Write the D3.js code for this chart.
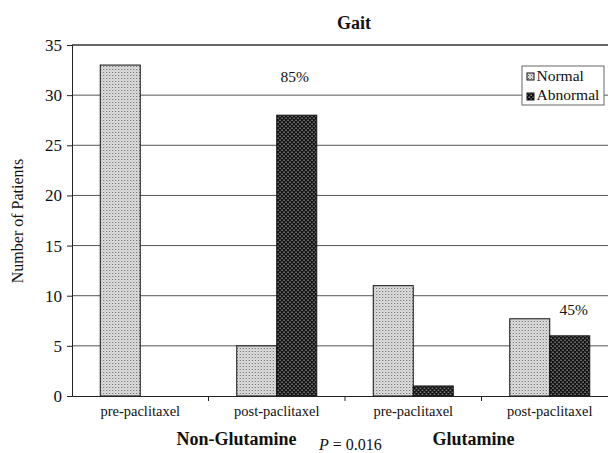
<!DOCTYPE html>
<html>
<head>
<meta charset="utf-8">
<script src="https://cdn.jsdelivr.net/npm/d3@7"></script>
<style>
body { margin: 0; background: #fff; }
svg text { font-family: "Liberation Serif", Tinos, "DejaVu Serif", "Times New Roman", serif !important; fill: #111; }
</style>
</head>
<body>
<svg id="chart" width="608" height="453"></svg>
<script>
// chart data
var categories = ["pre-paclitaxel|ng", "post-paclitaxel|ng", "pre-paclitaxel|g", "post-paclitaxel|g"];
var catLabels = ["pre-paclitaxel", "post-paclitaxel", "pre-paclitaxel", "post-paclitaxel"];
var seriesNames = ["Normal", "Abnormal"];
var normalVals = [33, 5, 11, 7.7];
var abnormalVals = [0, 28, 1, 6];
var yTicks = [0, 5, 10, 15, 20, 25, 30, 35];
var groups = ["Non-Glutamine", "Glutamine"];
var noteCats = [1, 3];
var noteTexts = ["85%", "45%"];

const svg = d3.select("#chart"),
	margin = {top: 45, right: -10, bottom: 57, left: 72},
	width = +svg.attr("width") - margin.left - margin.right,
	height = +svg.attr("height") - margin.top - margin.bottom;

// fill patterns like the printed figure
var defs = svg.append("defs");
var pn = defs.append("pattern").attr("id", "pNormal").attr("width", 3).attr("height", 3)
	.attr("patternUnits", "userSpaceOnUse");
pn.append("rect").attr("width", 3).attr("height", 3).attr("fill", "#e2e2e2");
pn.append("rect").attr("width", 1).attr("height", 1).attr("fill", "#555");
pn.append("rect").attr("x", 1.5).attr("y", 1.5).attr("width", 1).attr("height", 1).attr("fill", "#999");
var pa = defs.append("pattern").attr("id", "pAbnormal").attr("width", 4).attr("height", 4)
	.attr("patternUnits", "userSpaceOnUse");
pa.append("rect").attr("width", 4).attr("height", 4).attr("fill", "#0e0e0e");
pa.append("rect").attr("x", 0.5).attr("y", 0.5).attr("width", 1.5).attr("height", 1.5).attr("fill", "#8c8c8c");
pa.append("rect").attr("x", 2.5).attr("y", 2.5).attr("width", 1.5).attr("height", 1.5).attr("fill", "#8c8c8c");
var fills = ["url(#pNormal)", "url(#pAbnormal)"];

var x = d3.scaleBand().domain(categories).range([0, width]).paddingInner(0).paddingOuter(0),
	x1 = d3.scaleBand().domain(seriesNames).range([0, 80]),
	y = d3.scaleLinear().domain([0, 35]).range([height, 0]);

var g = svg.append("g").attr("transform", `translate(${margin.left},${margin.top})`);

// gridlines
g.append("g").selectAll("line").data(yTicks.filter(d => d > 0)).enter().append("line")
	.attr("x1", 0).attr("x2", width)
	.attr("y1", d => y(d)).attr("y2", d => y(d))
	.attr("stroke", d => d === 35 ? "#333" : "#555").attr("stroke-width", d => d === 35 ? 1.4 : 1);

// bars
var data = categories.map((c, i) => ({cat: c, vals: [normalVals[i], abnormalVals[i]]}));
var grp = g.selectAll(".grp").data(data).enter().append("g")
	.attr("transform", d => `translate(${x(d.cat) + x.bandwidth() / 2 - 40},0)`);
grp.selectAll("rect").data(d => d.vals.map((v, j) => ({v: v, s: seriesNames[j], j: j})))
	.enter().append("rect")
	.filter(d => d.v > 0)
	.attr("x", d => x1(d.s))
	.attr("y", d => y(d.v))
	.attr("width", x1.bandwidth())
	.attr("height", d => height - y(d.v))
	.attr("fill", d => fills[d.j])
	.attr("stroke", "#111").attr("stroke-width", 1);

// axes
var yAxis = g.append("g").call(d3.axisLeft(y).tickValues(yTicks).tickSize(5).tickPadding(5).tickFormat(d3.format("d")));
yAxis.attr("font-family", null);
yAxis.select(".domain").attr("stroke", "#222");
yAxis.selectAll("line").attr("stroke", "#222");
yAxis.selectAll("text").style("font-size", "17px");

var xAxis = g.append("g").attr("transform", `translate(0,${height})`)
	.call(d3.axisBottom(x).tickSize(0).tickPadding(10).tickFormat((d, i) => catLabels[i]));
xAxis.attr("font-family", null);
xAxis.select(".domain").attr("stroke", "#222");
xAxis.selectAll("text").style("font-size", "14.5px");
xAxis.selectAll(".sep").data(categories.slice(1)).enter().append("line")
	.attr("class", "sep")
	.attr("x1", d => x(d)).attr("x2", d => x(d))
	.attr("y1", 0).attr("y2", 5).attr("stroke", "#222");

// annotations (85% above the non-glutamine post bars, 45% near glutamine post)
var noteDx = [18, 24], noteY = [31.3, 8.1];
g.selectAll(".note").data(noteTexts).enter().append("text")
	.attr("x", (d, i) => x(categories[noteCats[i]]) + x.bandwidth() / 2 + noteDx[i])
	.attr("y", (d, i) => y(noteY[i]))
	.attr("text-anchor", "middle").style("font-size", "15.5px")
	.text(d => d);

// group labels
var groupDx = [28, -8];
g.selectAll(".glab").data(groups).enter().append("text")
	.attr("x", (d, i) => x(categories[i * 2 + 1]) + groupDx[i])
	.attr("y", height + 49)
	.attr("text-anchor", "middle")
	.style("font-size", "18px").style("font-weight", "bold")
	.text(d => d);

svg.append("text").attr("x", 319).attr("y", 450).style("font-size", "16px")
	.html('<tspan font-style="italic">P</tspan> = 0.016');

// title and y label
svg.append("text").attr("x", 354).attr("y", 29).attr("text-anchor", "middle")
	.style("font-size", "18px").style("font-weight", "bold").text("Gait");
svg.append("text").attr("transform", "translate(23,221) rotate(-90)")
	.attr("text-anchor", "middle").style("font-size", "16px").text("Number of Patients");

// legend
var leg = svg.append("g").attr("transform", "translate(522,66)");
leg.append("rect").attr("width", 82).attr("height", 39).attr("fill", "#fff").attr("stroke", "#666");
seriesNames.forEach((s, i) => {
	leg.append("rect").attr("x", 5).attr("y", 7 + i * 20).attr("width", 7).attr("height", 7)
		.attr("fill", fills[i]).attr("stroke", "#111");
	leg.append("text").attr("x", 14.5).attr("y", 15 + i * 19).style("font-size", "15.5px").text(s);
});
</script>
</body>
</html>
